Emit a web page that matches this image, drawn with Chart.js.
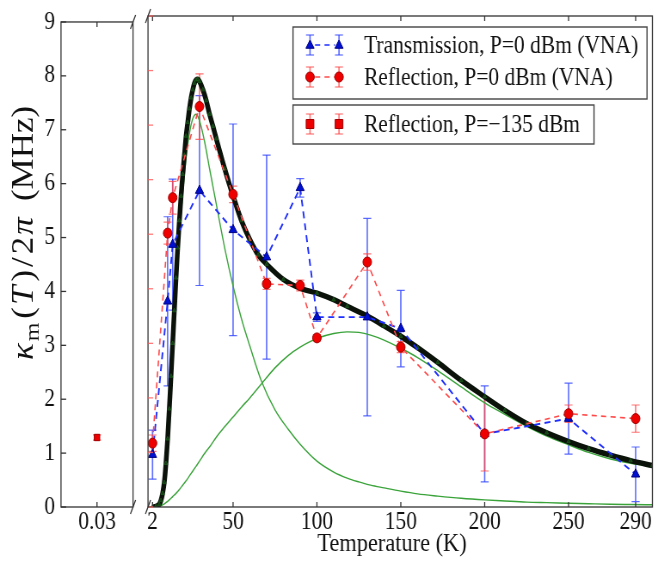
<!DOCTYPE html>
<html>
<head>
<meta charset="utf-8">
<script src="https://cdn.jsdelivr.net/npm/chart.js@4.4.1/dist/chart.umd.min.js"></script>
<style>
body { margin: 0; background: #fff; }
#wrap { position: relative; width: 658px; height: 562px; overflow: hidden; }
canvas { position: absolute; left: 0; top: 0; width: 658px; height: 562px; }
</style>
</head>
<body>
<div id="wrap">
<canvas id="leftCanvas" width="765" height="562" style="width:658px;height:562px"></canvas>
<canvas id="rightCanvas" width="765" height="562" style="width:658px;height:562px"></canvas>
</div>
<script>
// measured points (VNA, P = 0 dBm)
var tempVNA = [2, 11, 14, 30, 50, 70, 90, 100, 130, 150, 200, 250, 290];
var transValues = [0.96, 3.77, 4.81, 5.80, 5.08, 4.58, 5.85, 3.48, 3.48, 3.27, 1.34, 1.62, 0.60];
var transErrors = [0.45, 1.55, 1.20, 1.74, 1.94, 1.87, 0.17, 0.08, 1.81, 0.70, 0.88, 0.65, 0.50];
var reflValues = [1.17, 5.02, 5.67, 7.34, 5.73, 4.09, 4.06, 3.10, 4.49, 2.93, 1.34, 1.71, 1.62];
var reflErrors = [0.15, 0.20, 0.30, 0.60, 0.15, 0.10, 0.10, 0.06, 0.15, 0.10, 0.68, 0.16, 0.25];

// low power point (left panel)
var lowPowerTemp = [0.03];
var lowPowerValues = [1.29];
var lowPowerErrors = [0.05];

// fit curve and its two components
var fitTemp = [2, 4, 6, 7, 8, 9, 10, 11, 12, 13, 14, 15, 16, 17, 18, 19, 20, 21, 22, 23, 24, 25, 26, 27, 28, 29, 30, 32, 34, 36, 38, 40, 45, 50, 55, 60, 65, 70, 80, 90, 100, 110, 118, 130, 140, 150, 160, 172, 186, 200, 212, 225, 237, 250, 262, 275, 287, 300];
var fitTotal = [0, 0.01, 0.05, 0.12, 0.25, 0.45, 0.8, 1.25, 1.8, 2.4, 3.0, 3.6, 4.2, 4.75, 5.25, 5.7, 6.1, 6.45, 6.8, 7.05, 7.3, 7.5, 7.65, 7.77, 7.83, 7.84, 7.8, 7.65, 7.45, 7.2, 6.98, 6.75, 6.2, 5.7, 5.25, 4.9, 4.62, 4.45, 4.17, 4.01, 3.92, 3.8, 3.68, 3.5, 3.32, 3.13, 2.92, 2.65, 2.32, 2.02, 1.77, 1.53, 1.36, 1.2, 1.07, 0.95, 0.85, 0.76];
var compTemp = [0, 4, 6, 8, 10, 12, 14, 16, 18, 20, 22, 24, 26, 28, 30, 33, 36, 40, 45, 50, 55, 60, 67, 75, 83, 90, 100, 110, 118, 125, 132, 140, 150, 160, 172, 186, 200, 212, 225, 237, 250, 262, 275, 287, 300];
var compLow = [0, 0, 0.02, 0.15, 0.7, 1.7, 2.8, 3.95, 4.95, 5.75, 6.4, 6.85, 7.12, 7.2, 7.08, 6.7, 6.2, 5.55, 4.75, 4.05, 3.45, 2.95, 2.3, 1.78, 1.42, 1.15, 0.84, 0.64, 0.53, 0.46, 0.4, 0.35, 0.29, 0.24, 0.2, 0.16, 0.13, 0.11, 0.09, 0.08, 0.07, 0.06, 0.05, 0.045, 0.04];
var compHigh = [0, 0, 0.01, 0.04, 0.08, 0.13, 0.19, 0.25, 0.32, 0.4, 0.48, 0.57, 0.66, 0.75, 0.84, 0.98, 1.1, 1.28, 1.47, 1.65, 1.83, 2.0, 2.26, 2.55, 2.78, 2.93, 3.09, 3.18, 3.21, 3.2, 3.15, 3.06, 2.91, 2.74, 2.5, 2.2, 1.91, 1.7, 1.48, 1.3, 1.14, 1.0, 0.88, 0.8, 0.74];

var xTickValues = [2, 50, 100, 150, 200, 250, 290];
var leftTickValues = [0.03];
var yTickValues = [0, 1, 2, 3, 4, 5, 6, 7, 8, 9];

var labelTrans = 'Transmission, P=0 dBm (VNA)';
var labelRefl = 'Reflection, P=0 dBm (VNA)';
var labelLow = 'Reflection, P=\u2212135 dBm';

// the original figure is squeezed sideways, so the canvas is drawn wider and shrunk by css
var squeeze = 658 / 765;
function sx(v) { return v / squeeze; }   // screen x -> canvas x

var plotTop = 16, plotBottom = 507;
var serif = '"Liberation Serif", "Times New Roman", serif';
var blueLine = '#1f2fff', blueBar = 'rgba(50,70,255,0.8)';
var redLine = '#ff4a4a', redBar = 'rgba(255,70,70,0.75)';
var capW = sx(4);

function pairs(xs, ys) {
    return xs.map(function (x, i) { return { x: x, y: ys[i] }; });
}

function line(ctx, x1, y1, x2, y2) {
    ctx.beginPath(); ctx.moveTo(x1, y1); ctx.lineTo(x2, y2); ctx.stroke();
}

function drawMarker(ctx, shape, x, y, r, fill, stroke) {
    ctx.beginPath();
    if (shape === 'triangle') {
        ctx.moveTo(x, y - r); ctx.lineTo(x + r * 0.95, y + r * 0.65); ctx.lineTo(x - r * 0.95, y + r * 0.65); ctx.closePath();
    } else if (shape === 'rect') {
        ctx.rect(x - r, y - r, 2 * r, 2 * r);
    } else {
        ctx.arc(x, y, r, 0, Math.PI * 2);
    }
    ctx.fillStyle = fill; ctx.fill();
    ctx.lineWidth = 1; ctx.strokeStyle = stroke; ctx.stroke();
}

function drawErrorBars(chart, xs, ys, errs, color) {
    var ctx = chart.ctx, scx = chart.scales.x, scy = chart.scales.y, a = chart.chartArea;
    ctx.save();
    ctx.beginPath(); ctx.rect(a.left, a.top, a.right - a.left, a.bottom - a.top); ctx.clip();
    ctx.strokeStyle = color;
    xs.forEach(function (x, i) {
        var px = scx.getPixelForValue(x);
        var top = scy.getPixelForValue(ys[i] + errs[i]);
        var bot = scy.getPixelForValue(ys[i] - errs[i]);
        ctx.lineWidth = 1.6;
        line(ctx, px, top, px, bot);
        ctx.lineWidth = 1.2;
        line(ctx, px - capW, top, px + capW, top);
        line(ctx, px - capW, bot, px + capW, bot);
    });
    ctx.restore();
}

function drawBreak(ctx, x, y) {
    line(ctx, x - 3, y + 7, x + 3, y - 7);
}

// frame, inward ticks and break marks
function framePlugin(side) {
    return {
        id: 'frame' + side,
        afterDraw: function (chart) {
            var ctx = chart.ctx, a = chart.chartArea, scx = chart.scales.x, scy = chart.scales.y;
            ctx.save();
            ctx.strokeStyle = '#333'; ctx.lineWidth = 1.3;
            ctx.strokeRect(a.left, a.top, a.right - a.left, a.bottom - a.top);
            var xt = side === 'left' ? leftTickValues : xTickValues;
            xt.forEach(function (v) {
                var px = scx.getPixelForValue(v);
                line(ctx, px, a.bottom, px, a.bottom - 5);
                line(ctx, px, a.top, px, a.top + 5);
            });
            if (side === 'right') ctx.strokeStyle = 'rgba(255,90,90,0.8)';
            yTickValues.forEach(function (v) {
                var py = scy.getPixelForValue(v);
                line(ctx, a.left, py, a.left + 6, py);
            });
            ctx.strokeStyle = '#333';
            var bx = side === 'left' ? a.right : a.left;
            drawBreak(ctx, bx, a.top);
            drawBreak(ctx, bx, a.bottom);
            ctx.restore();
        }
    };
}

var leftExtras = {
    id: 'leftExtras',
    beforeDatasetsDraw: function (chart) {
        drawErrorBars(chart, lowPowerTemp, lowPowerValues, lowPowerErrors, redBar);
    },
    afterDraw: function (chart) {
        // y axis title: kappa_m(T)/2pi (MHz)
        var ctx = chart.ctx;
        var pieces = [
            { t: '\u03ba', f: 'italic 35px ' + serif, dy: 0, gap: 2 },
            { t: 'm', f: '24px ' + serif, dy: 7, gap: 4 },
            { t: '(', f: '35px ' + serif, dy: 0, gap: 2 },
            { t: 'T', f: 'italic 35px ' + serif, dy: 0, gap: 4 },
            { t: ')', f: '35px ' + serif, dy: 0, gap: 3 },
            { t: '/', f: '35px ' + serif, dy: 0, gap: 3 },
            { t: '2', f: '35px ' + serif, dy: 0, gap: 2 },
            { t: '\u03c0', f: 'italic 35px ' + serif, dy: 0, gap: 16 },
            { t: '(MHz)', f: '35px ' + serif, dy: 0, gap: 0 }
        ];
        var total = 0;
        pieces.forEach(function (p) { ctx.font = p.f; p.w = ctx.measureText(p.t).width; total += p.w + p.gap; });
        ctx.save();
        ctx.translate(sx(33), 233);
        ctx.rotate(-Math.PI / 2);
        ctx.fillStyle = '#111';
        ctx.textBaseline = 'alphabetic';
        var x = -total / 2;
        pieces.forEach(function (p) {
            ctx.font = p.f;
            ctx.fillText(p.t, x, p.dy);
            x += p.w + p.gap;
        });
        ctx.restore();
    }
};

var rightExtras = {
    id: 'rightExtras',
    beforeDatasetsDraw: function (chart) {
        drawErrorBars(chart, tempVNA, transValues, transErrors, blueBar);
        drawErrorBars(chart, tempVNA, reflValues, reflErrors, redBar);
    },
    afterDraw: function (chart) {
        var ctx = chart.ctx;
        ctx.save();
        // x axis title
        ctx.font = '26px ' + serif;
        ctx.fillStyle = '#111';
        ctx.textAlign = 'center';
        ctx.textBaseline = 'middle';
        ctx.fillText('Temperature (K)', sx(392), 544);

        // legend boxes
        var rows = [
            { y: 45, label: labelTrans, shape: 'triangle', fill: '#0010d0', edge: '#000080', bar: blueBar, line: blueLine },
            { y: 77, label: labelRefl, shape: 'circle', fill: '#ee0000', edge: '#a00000', bar: redBar, line: redLine },
            { y: 124, label: labelLow, shape: 'rect', fill: '#ee0000', edge: '#a00000', bar: redBar, line: null }
        ];
        ctx.fillStyle = '#fff';
        ctx.strokeStyle = '#444';
        ctx.lineWidth = 1.4;
        var bx = sx(293);
        ctx.fillRect(bx, 27, sx(647) - bx, 72); ctx.strokeRect(bx, 27, sx(647) - bx, 72);
        ctx.fillRect(bx, 105, sx(594) - bx, 39); ctx.strokeRect(bx, 105, sx(594) - bx, 39);
        rows.forEach(function (r) {
            if (r.line) {
                ctx.save();
                ctx.strokeStyle = r.line; ctx.lineWidth = 1.6; ctx.setLineDash([6, 5]);
                line(ctx, sx(315), r.y, sx(335), r.y);
                ctx.restore();
            }
            [sx(310), sx(339)].forEach(function (mx) {
                ctx.strokeStyle = r.bar; ctx.lineWidth = 1.6;
                line(ctx, mx, r.y - 10, mx, r.y + 10);
                ctx.lineWidth = 1.2;
                line(ctx, mx - capW, r.y - 10, mx + capW, r.y - 10);
                line(ctx, mx - capW, r.y + 10, mx + capW, r.y + 10);
                drawMarker(ctx, r.shape, mx, r.y, r.shape === 'rect' ? 4.5 : 5, r.fill, r.edge);
            });
            ctx.fillStyle = '#111';
            ctx.font = '25px ' + serif;
            ctx.textAlign = 'left';
            ctx.textBaseline = 'middle';
            ctx.fillText(r.label, sx(364), r.y + 1);
        });
        ctx.restore();
    }
};

var tickFont = { family: serif, size: 25 };

// left panel: the single low-temperature point
new Chart(document.getElementById('leftCanvas'), {
    type: 'line',
    data: {
        datasets: [{
            label: labelLow,
            data: pairs(lowPowerTemp, lowPowerValues),
            showLine: false,
            pointStyle: 'rect',
            pointRadius: 4.5,
            backgroundColor: '#ee0000',
            borderColor: '#a00000',
            borderWidth: 1
        }]
    },
    options: {
        responsive: false,
        animation: false,
        devicePixelRatio: 1,
        layout: { padding: { left: 0, right: 765 - sx(133), top: plotTop, bottom: 0 } },
        plugins: { legend: { display: false }, tooltip: { enabled: false } },
        scales: {
            x: {
                type: 'linear', min: 0, max: 0.06,
                afterBuildTicks: function (s) { s.ticks = leftTickValues.map(function (v) { return { value: v }; }); },
                afterFit: function (s) { s.height = 562 - plotBottom; },
                ticks: { font: tickFont, color: '#111', padding: 0, maxRotation: 0, autoSkip: false,
                    callback: function (v) { return v.toFixed(2); } },
                grid: { display: false, drawTicks: false }, border: { display: false }
            },
            y: {
                min: 0, max: 9,
                afterBuildTicks: function (s) { s.ticks = yTickValues.map(function (v) { return { value: v }; }); },
                afterFit: function (s) { s.width = sx(61); },
                ticks: { font: tickFont, color: '#111', padding: sx(6) },
                grid: { display: false, drawTicks: false }, border: { display: false }
            }
        }
    },
    plugins: [leftExtras, framePlugin('left')]
});

// right panel: VNA data and the fit
new Chart(document.getElementById('rightCanvas'), {
    type: 'line',
    data: {
        datasets: [{
            label: labelRefl,
            data: pairs(tempVNA, reflValues),
            order: 0,
            borderColor: redLine, borderWidth: 1.6, borderDash: [6, 5],
            pointStyle: 'circle', pointRadius: 5,
            pointBackgroundColor: '#ee0000', pointBorderColor: '#a00000', pointBorderWidth: 1
        }, {
            label: labelTrans,
            data: pairs(tempVNA, transValues),
            order: 1,
            borderColor: blueLine, borderWidth: 1.9, borderDash: [7, 5],
            pointStyle: 'triangle', pointRadius: 5.5,
            pointBackgroundColor: '#0010d0', pointBorderColor: '#000080', pointBorderWidth: 1
        }, {
            label: 'fit',
            data: pairs(fitTemp, fitTotal),
            order: 2,
            borderColor: '#0a120a', borderWidth: 5.5,
            cubicInterpolationMode: 'monotone',
            pointStyle: 'triangle', pointRadius: 2.4,
            pointBackgroundColor: '#123d12', pointBorderColor: '#1d5a1d', pointBorderWidth: 0.8
        }, {
            label: 'low-T component',
            data: pairs(compTemp, compLow),
            order: 3,
            borderColor: '#3aa33a', borderWidth: 1.4,
            cubicInterpolationMode: 'monotone', pointRadius: 0
        }, {
            label: 'high-T component',
            data: pairs(compTemp, compHigh),
            order: 3,
            borderColor: '#3aa33a', borderWidth: 1.4,
            cubicInterpolationMode: 'monotone', pointRadius: 0
        }]
    },
    options: {
        responsive: false,
        animation: false,
        devicePixelRatio: 1,
        layout: { padding: { left: sx(148), right: 765 - sx(657), top: plotTop, bottom: 0 } },
        plugins: { legend: { display: false }, tooltip: { enabled: false } },
        scales: {
            x: {
                type: 'linear', min: -0.7, max: 300,
                afterBuildTicks: function (s) { s.ticks = xTickValues.map(function (v) { return { value: v }; }); },
                afterFit: function (s) { s.height = 562 - plotBottom; },
                ticks: { font: tickFont, color: '#111', padding: 0, maxRotation: 0, autoSkip: false },
                grid: { display: false, drawTicks: false }, border: { display: false }
            },
            y: { min: 0, max: 9, display: false }
        }
    },
    plugins: [rightExtras, framePlugin('right')]
});
</script>
</body>
</html>
